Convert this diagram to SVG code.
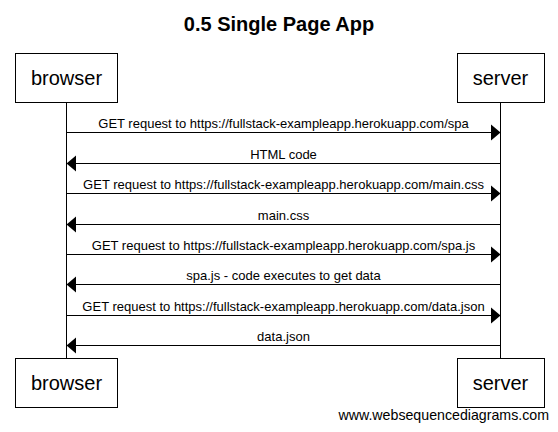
<svg xmlns="http://www.w3.org/2000/svg" width="558" height="432" viewBox="0 0 558 432">
<defs>
<style>
.box{fill:#fff;stroke:#000;stroke-width:1}
.life{stroke:#000;stroke-width:1}
.msg{stroke:#000;stroke-width:1;fill:none}
.head{fill:#000}
.pt{font-family:"Liberation Sans",Arial,sans-serif;font-size:20px;fill:#000;text-anchor:middle}
.ml{font-family:"Liberation Sans",Arial,sans-serif;font-size:13px;fill:#000;text-anchor:middle}
.title{font-family:"Liberation Sans",Arial,sans-serif;font-size:20px;font-weight:bold;fill:#000;text-anchor:middle}
.wm{font-family:"Liberation Sans",Arial,sans-serif;font-size:14.2px;fill:#000;text-anchor:end}
</style>
</defs>
<rect width="558" height="432" fill="#fff"/>
<text class="title" x="279" y="31">0.5 Single Page App</text>
<g id="lifelines">
<line class="life" x1="66.5" y1="102" x2="66.5" y2="358"/>
<line class="life" x1="500.5" y1="102" x2="500.5" y2="358"/>
</g>
<g id="browser">
<rect class="box" x="15.5" y="53.5" width="102" height="49"/>
<text class="pt" x="66.5" y="85">browser</text>
</g>
<g id="server">
<rect class="box" x="457.5" y="53.5" width="87" height="49"/>
<text class="pt" x="500.5" y="85">server</text>
</g>
<g id="browser-bottom">
<rect class="box" x="15.5" y="358.5" width="102" height="49"/>
<text class="pt" x="66.5" y="390">browser</text>
</g>
<g id="server-bottom">
<rect class="box" x="457.5" y="358.5" width="87" height="49"/>
<text class="pt" x="500.5" y="390">server</text>
</g>
<g id="connectors">
<line class="msg" x1="66.5" y1="132.5" x2="492" y2="132.5"/>
<polygon class="head" points="500.5,132.5 491,124.5 491,140.5"/>
<text class="ml" x="283.5" y="128">GET request to https://fullstack-exampleapp.herokuapp.com/spa</text>
<line class="msg" x1="500.5" y1="163.5" x2="75" y2="163.5"/>
<polygon class="head" points="66.5,163.5 76,155.5 76,171.5"/>
<text class="ml" x="283.5" y="159">HTML code</text>
<line class="msg" x1="66.5" y1="193.5" x2="492" y2="193.5"/>
<polygon class="head" points="500.5,193.5 491,185.5 491,201.5"/>
<text class="ml" x="283.5" y="189">GET request to https://fullstack-exampleapp.herokuapp.com/main.css</text>
<line class="msg" x1="500.5" y1="224.5" x2="75" y2="224.5"/>
<polygon class="head" points="66.5,224.5 76,216.5 76,232.5"/>
<text class="ml" x="283.5" y="220">main.css</text>
<line class="msg" x1="66.5" y1="254.5" x2="492" y2="254.5"/>
<polygon class="head" points="500.5,254.5 491,246.5 491,262.5"/>
<text class="ml" x="283.5" y="250">GET request to https://fullstack-exampleapp.herokuapp.com/spa.js</text>
<line class="msg" x1="500.5" y1="284.5" x2="75" y2="284.5"/>
<polygon class="head" points="66.5,284.5 76,276.5 76,292.5"/>
<text class="ml" x="283.5" y="280">spa.js - code executes to get data</text>
<line class="msg" x1="66.5" y1="315.5" x2="492" y2="315.5"/>
<polygon class="head" points="500.5,315.5 491,307.5 491,323.5"/>
<text class="ml" x="283.5" y="311">GET request to https://fullstack-exampleapp.herokuapp.com/data.json</text>
<line class="msg" x1="500.5" y1="345.5" x2="75" y2="345.5"/>
<polygon class="head" points="66.5,345.5 76,337.5 76,353.5"/>
<text class="ml" x="283.5" y="341">data.json</text>
</g>
<text class="wm" x="549" y="420">www.websequencediagrams.com</text>
</svg>
